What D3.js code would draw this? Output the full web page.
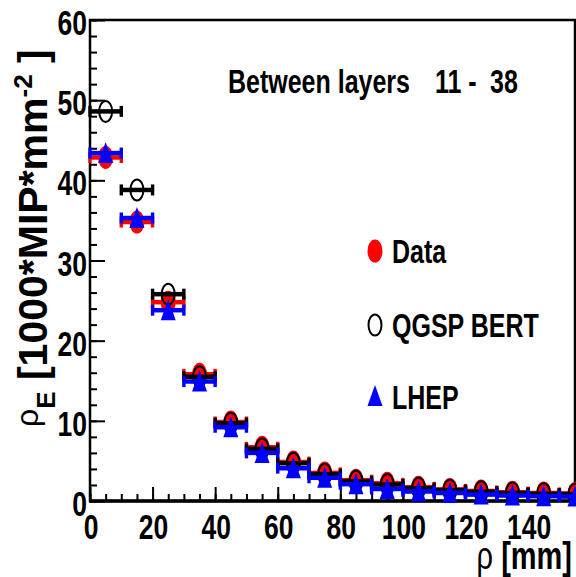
<!DOCTYPE html>
<html><head><meta charset="utf-8">
<script src="https://cdn.jsdelivr.net/npm/d3@7"></script>
<style>
html,body{margin:0;padding:0;background:#fff;}
svg{display:block;}
text{font-family:"Liberation Sans",Arial,Helvetica,sans-serif;font-weight:bold;}
</style></head>
<body>
<script>
// ---- data ----
const rhoCenters = [5,15,25,35,45,55,65,75,85,95,105,115,125,135,145,155];
const rhoHalfBin = 5;
const dataVals = [42.85,34.8,24.8,15.8,9.85,6.7,4.85,3.5,2.6,2.2,1.7,1.45,1.25,1.1,1.0,0.95];
const qgspVals = [48.6,38.8,25.8,15.5,9.7,6.5,4.7,3.35,2.45,2.05,1.6,1.35,1.15,1.0,0.9,0.85];
const lhepVals = [43.4,35.3,23.8,14.9,9.2,6.0,4.1,2.9,2.1,1.5,1.2,1.0,0.8,0.7,0.6,0.55];
const xMajorTicks = [0,20,40,60,80,100,120,140];
const yMajorTicks = [0,10,20,30,40,50,60];
const legendLabels = ["Data","QGSP BERT","LHEP"];
const titleText = "Between layers";
const layerRange = ["11 -","38"];

const W=576,H=577;
const L=90,R=575,T=20,B=501;
const SY=1.3; // vertical stretch of glyphs
const svg=d3.select("body").append("svg").attr("width",W).attr("height",H);

const x=d3.scaleLinear().domain([0,155]).range([L,R]);
const y=d3.scaleLinear().domain([0,60]).range([B,T]);

// minor + major ticks via d3 axes
const xMinor=d3.range(0,156,5), yMinor=d3.range(0,61,2);
function styleAxis(g){g.select(".domain").remove();g.selectAll("line").attr("stroke","#000").attr("stroke-width",2);g.selectAll("text").remove();}
svg.append("g").attr("transform",`translate(0,${B})`).call(d3.axisTop(x).tickValues(xMinor).tickSize(7).tickFormat("")).call(styleAxis);
svg.append("g").attr("transform",`translate(0,${B})`).call(d3.axisTop(x).tickValues(xMajorTicks).tickSize(14).tickFormat("")).call(styleAxis);
svg.append("g").attr("transform",`translate(${L},0)`).call(d3.axisRight(y).tickValues(yMinor).tickSize(7).tickFormat("")).call(styleAxis);
svg.append("g").attr("transform",`translate(${L},0)`).call(d3.axisRight(y).tickValues(yMajorTicks).tickSize(15).tickFormat("")).call(styleAxis);

// frame
svg.append("rect").attr("x",L).attr("y",T).attr("width",R-L).attr("height",B-T)
  .attr("fill","none").attr("stroke","#000").attr("stroke-width",2.5);
svg.append("line").attr("x1",L-1).attr("x2",R).attr("y1",B).attr("y2",B).attr("stroke","#000").attr("stroke-width",3.5);

function stretchedText(px,py,str,size,anchor){
  return svg.append("text").attr("transform",`translate(${px},${py}) scale(1,${SY})`)
    .attr("font-size",size).attr("text-anchor",anchor||"start").text(str);
}
// tick labels
yMajorTicks.forEach(v=>stretchedText(L-3,y(v)+15,String(v),26.5,"end"));
xMajorTicks.forEach(v=>stretchedText(x(v)+1,539,String(v),26.5,"middle"));

// axis titles
svg.append("text").attr("transform",`translate(572,569) scale(1,1.32)`).attr("font-size",29).attr("text-anchor","end")
  .html('<tspan font-weight="normal">ρ</tspan> [mm]');
const yl=svg.append("text").attr("transform","translate(47,427) rotate(-90)").attr("font-size",41);
yl.append("tspan").attr("font-weight","normal").attr("font-size",32).attr("dy",-9).text("ρ");
yl.append("tspan").attr("font-size",26).attr("dy",17).text("E");
yl.append("tspan").attr("dy",-8).text(" [1000*MIP*mm");
yl.append("tspan").attr("font-size",26).attr("dy",-15).text("-2");
yl.append("tspan").attr("dy",15).text(" ]");

// plot label
stretchedText(228,93,titleText,25);
stretchedText(435,93,layerRange[0],25);
stretchedText(490,93,layerRange[1],25);

// series
function bars(vals,color,bw){
  const g=svg.append("g");
  rhoCenters.forEach((c,i)=>{
    const yy=y(vals[i]);
    g.append("line").attr("x1",x(c-rhoHalfBin)).attr("x2",x(c+rhoHalfBin)).attr("y1",yy).attr("y2",yy)
      .attr("stroke",color).attr("stroke-width",bw);
    [c-rhoHalfBin,c+rhoHalfBin].forEach(e=>{
      g.append("rect").attr("x",x(e)-1.7).attr("y",yy-5.5).attr("width",3.4).attr("height",11).attr("fill",color);
    });
  });
  return g;
}
const RX=7.5,RY=11.5;
// Data
bars(dataVals,"#ff0000",4.5);
svg.append("g").selectAll("ellipse").data(dataVals).join("ellipse")
  .attr("cx",(d,i)=>x(rhoCenters[i])).attr("cy",d=>y(d)).attr("rx",RX).attr("ry",RY).attr("fill","#ff0000");
// QGSP BERT
bars(qgspVals,"#000",4.5);
svg.append("g").selectAll("ellipse").data(qgspVals).join("ellipse")
  .attr("cx",(d,i)=>x(rhoCenters[i])).attr("cy",d=>y(d)).attr("rx",RX-1).attr("ry",RY-1)
  .attr("fill","none").attr("stroke","#000").attr("stroke-width",2);
// LHEP
bars(lhepVals,"#0000ff",4.5);
const tri=(cx,cy)=>`M${cx},${cy-11}L${cx+7.5},${cy+10}L${cx-7.5},${cy+10}Z`;
svg.append("g").selectAll("path").data(lhepVals).join("path")
  .attr("d",(d,i)=>tri(x(rhoCenters[i]),y(d))).attr("fill","#0000ff");

// legend
const lgY=[251,325,397];
svg.append("ellipse").attr("cx",375).attr("cy",lgY[0]).attr("rx",RX).attr("ry",RY).attr("fill","#ff0000");
svg.append("ellipse").attr("cx",375).attr("cy",lgY[1]).attr("rx",RX-1).attr("ry",RY-1).attr("fill","none").attr("stroke","#000").attr("stroke-width",2);
svg.append("path").attr("d",tri(375,lgY[2]-1)).attr("fill","#0000ff");
legendLabels.forEach((t,i)=>stretchedText(392,lgY[i]+12,t,25));
</script>
</body></html>
